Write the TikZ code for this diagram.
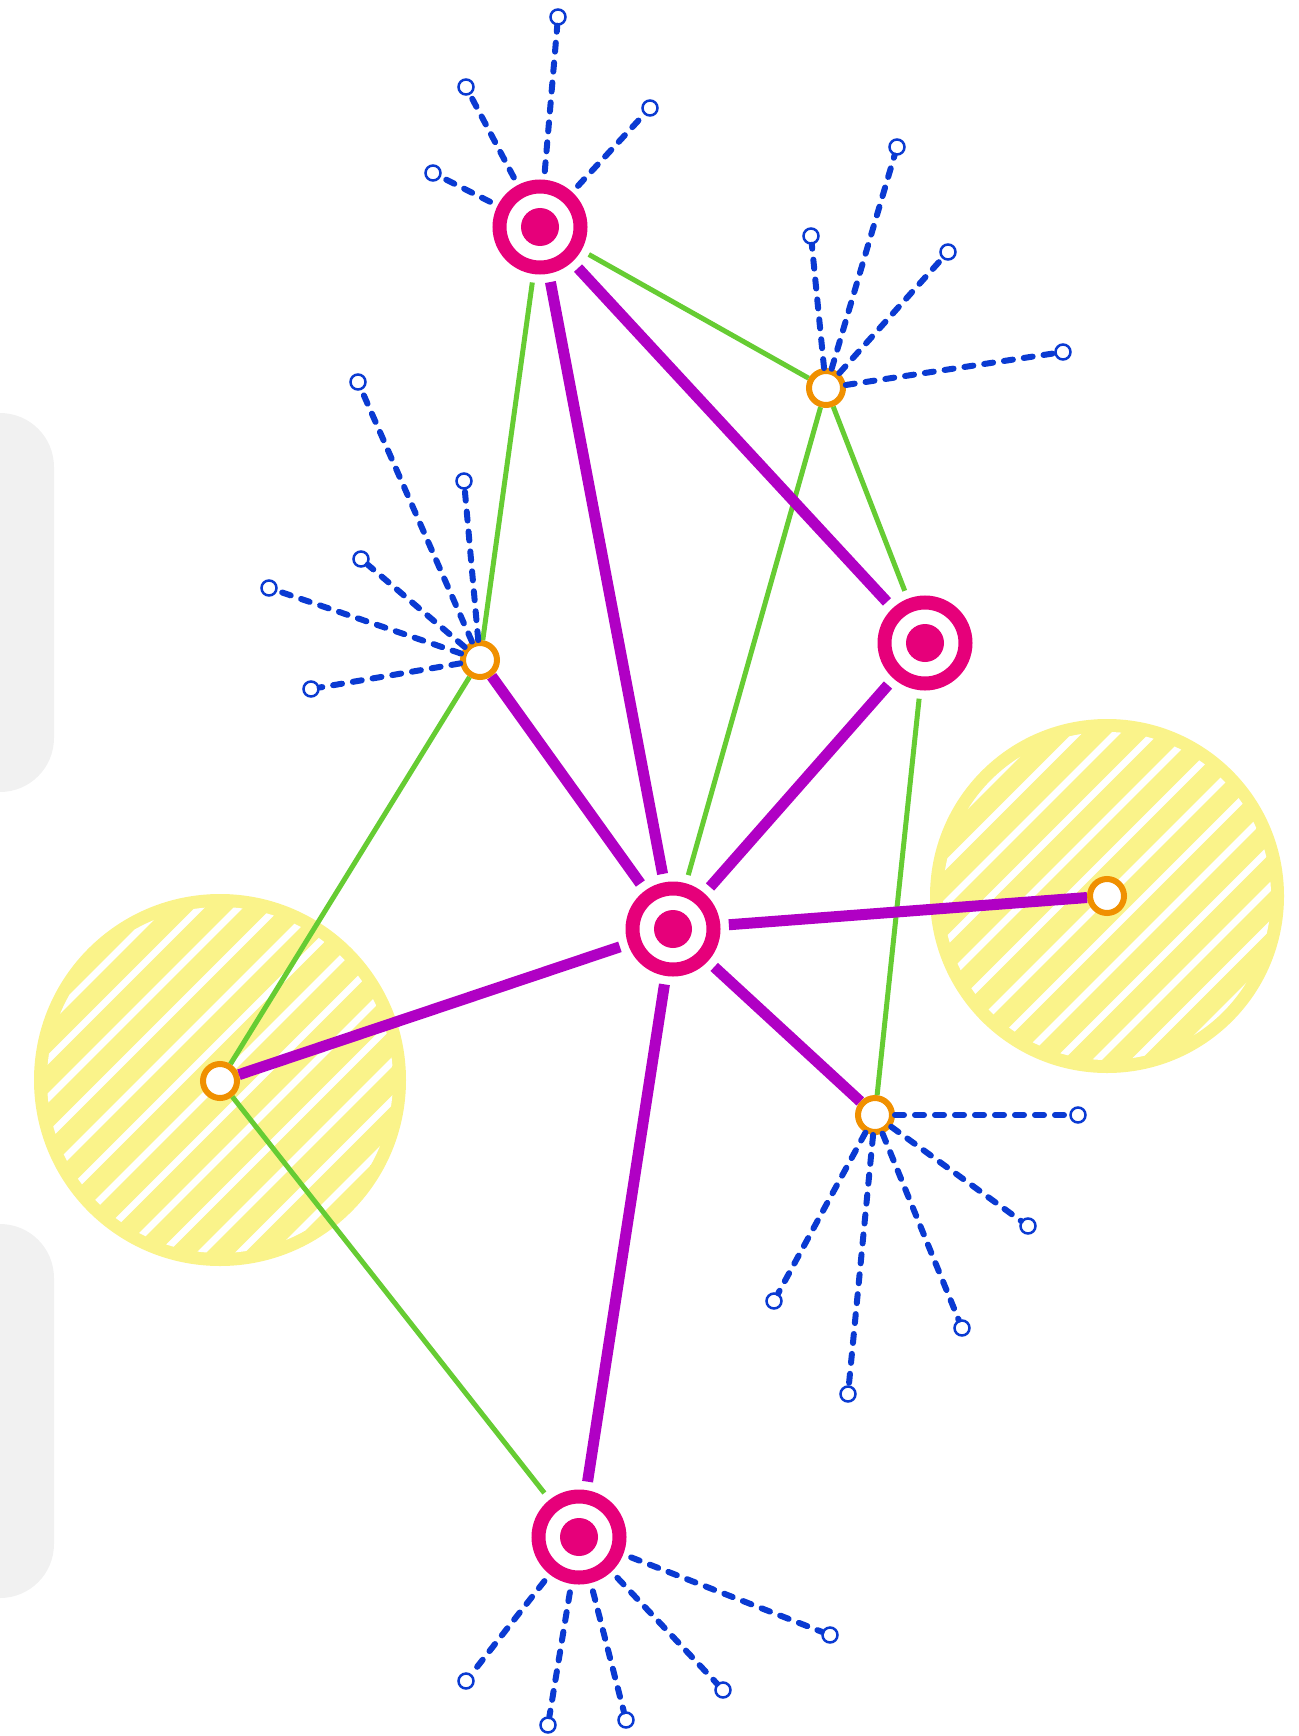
\documentclass[tikz,border=0pt]{standalone}
\definecolor{hubpink}{RGB}{230,0,122}
\definecolor{linkpurple}{RGB}{176,0,196}
\definecolor{tiegreen}{RGB}{102,204,51}
\definecolor{jointorange}{RGB}{240,144,0}
\definecolor{feelerblue}{RGB}{10,58,210}
\definecolor{zoneyellow}{RGB}{250,243,138}
\definecolor{panelgray}{RGB}{241,241,241}
\tikzset{
  hub/.style    = {circle, draw=hubpink, line width=14pt, fill=white, minimum size=81pt, inner sep=0pt, outer sep=15.5pt,
                   path picture={\fill[hubpink] (path picture bounding box.center) circle[radius=19pt];}},
  joint/.style  = {circle, draw=jointorange, line width=6pt, fill=white, minimum size=34pt, inner sep=0pt, outer sep=3pt},
  leaf/.style   = {circle, draw=feelerblue, line width=2.5pt, fill=white, minimum size=15pt, inner sep=0pt, outer sep=1.25pt},
  link/.style   = {draw=linkpurple, line width=11pt},
  tie/.style    = {draw=tiegreen, line width=5pt},
  feeler/.style = {draw=feelerblue, line width=6pt, line cap=round, dash pattern=on 9pt off 11pt},
  panel/.style  = {fill=panelgray, rounded corners=54pt},
}

\begin{document}
\begin{tikzpicture}[x=1pt, y=-1pt]
    \useasboundingbox (0,0) rectangle (1298,1736);
    \fill[panel] (-60,413) rectangle (54,792);
    \fill[panel] (-60,1224) rectangle (54,1598);
    \foreach \cx/\cy/\r in {220/1080/186, 1107/896/177} {
        \fill[zoneyellow] (\cx,\cy) circle[radius=\r];
        \begin{scope}
            \clip (\cx,\cy) circle[radius=\r-13];
            \foreach \k in {-8,...,8}
                \draw[white, line width=7pt] (\cx-\r+\k*38.5,\cy+\r) -- (\cx+\r+\k*38.5,\cy-\r);
        \end{scope}
    }
    \node[hub] (top) at (540,227) {};
    \node[hub] (east) at (925,643) {};
    \node[hub] (mid) at (673,929) {};
    \node[hub] (bottom) at (579,1537) {};
    \node[joint] (ne) at (826,388) {};
    \node[joint] (nw) at (480,660) {};
    \node[joint] (far) at (1107,896) {};
    \node[joint] (west) at (220,1081) {};
    \node[joint] (se) at (875,1115) {};
    \draw[tie] (top) -- (ne);
    \draw[tie] (top) -- (nw);
    \draw[tie] (ne) -- (east);
    \draw[tie] (ne) -- (mid);
    \draw[tie] (east) -- (se);
    \draw[tie] (nw) -- (west);
    \draw[tie] (west) -- (bottom);
    \draw[link] (top) -- (mid);
    \draw[link] (top) -- (east);
    \draw[link] (nw) -- (mid);
    \draw[link] (east) -- (mid);
    \draw[link] (mid) -- (far);
    \draw[link] (mid) -- (west);
    \draw[link] (mid) -- (se);
    \draw[link] (mid) -- (bottom);
    \foreach \hub/\i/\x/\y in {top/1/558/17, top/2/466/87, top/3/650/108, top/4/433/173,
        ne/1/897/147, ne/2/811/236, ne/3/948/252, ne/4/1063/352,
        nw/1/358/382, nw/2/464/481, nw/3/361/559, nw/4/269/588, nw/5/311/689,
        se/1/1078/1115, se/2/1028/1226, se/3/962/1328, se/4/848/1394, se/5/774/1301,
        bottom/1/830/1635, bottom/2/723/1690, bottom/3/626/1720, bottom/4/548/1725, bottom/5/466/1681} {
        \node[leaf] (\hub-\i) at (\x,\y) {};
        \draw[feeler] (\hub) -- (\hub-\i);
    }
\end{tikzpicture}
\end{document}
